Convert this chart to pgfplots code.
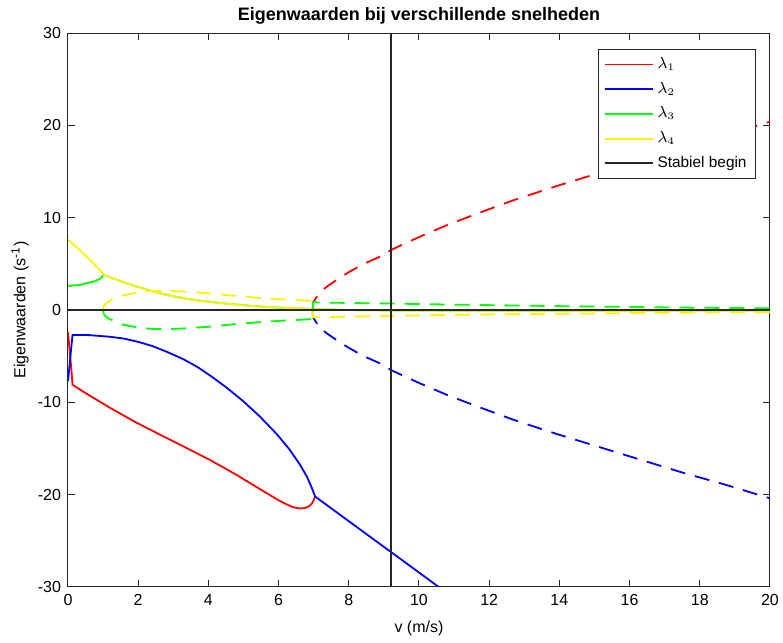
\documentclass[border=0pt]{standalone}
\usepackage{fontspec}
\setmainfont{Liberation Sans}
\usepackage{pgfplots}
\pgfplotsset{compat=1.18}
\begin{document}
\begin{tikzpicture}
\begin{axis}[
  scale only axis, width=351pt, height=277pt,
  xmin=0, xmax=20, ymin=-30, ymax=30,
  xtick={0,2,...,20}, ytick={-30,-20,...,30},
  tick align=inside, major tick length=3.5pt,
  ticklabel style={font=\fontsize{8}{9}\selectfont},
  /pgf/number format/assume math mode=true,
  axis line style={line width=0.5pt, black!85},
  every tick/.style={black!85, line width=0.5pt},
  title={Eigenwaarden bij verschillende snelheden},
  title style={font=\bfseries\fontsize{9}{10}\selectfont, at={(0.5,1)}, anchor=center, yshift=2.5pt},
  xlabel={v (m/s)},
  ylabel={Eigenwaarden (s\textsuperscript{-1})},
  xlabel style={font=\fontsize{8}{9}\selectfont, at={(axis description cs:0.5,-0.074)}, anchor=center},
  ylabel style={font=\fontsize{8}{9}\selectfont, at={(axis description cs:-0.0684,0.5)}, anchor=center},
  legend style={at={(1,1)}, anchor=north east, xshift=-7pt, yshift=-8pt,
    font=\fontsize{7.7}{8.5}\selectfont, row sep=1.3pt, inner xsep=2.5pt, inner ysep=2pt,
    draw=black!85, cells={anchor=west}},
  legend image code/.code={\draw[#1, line width=0.9pt] (0pt,0pt) -- (24pt,0pt);},
]
% lambda 1 (real part)
\addplot[red, line width=0.9pt] coordinates {
(0,-2.4) (0.05,-4.5) (0.1,-6.6) (0.13,-8.1) (0.5,-9.0) (1.2,-10.6) (1.9,-12.1)
(2.62,-13.5) (3.3,-14.8) (4.05,-16.25) (4.8,-17.85) (5.47,-19.4) (6.0,-20.6)
(6.2,-21.0) (6.41,-21.35) (6.6,-21.5) (6.75,-21.45) (6.87,-21.25) (6.95,-20.95) (7.0,-20.6) (7.04,-20.2)};
\addlegendentry{$\lambda_1$}
% lambda 2 (real part)
\addplot[blue, line width=0.9pt] coordinates {
(0,-7.7) (0.05,-5.8) (0.1,-3.8) (0.13,-2.7) (0.6,-2.72) (1.2,-2.9) (1.6,-3.1)
(2.0,-3.45) (2.4,-3.9) (2.8,-4.5) (3.3,-5.35) (3.7,-6.2) (4.05,-7.1) (4.5,-8.35)
(5.0,-9.9) (5.47,-11.55) (5.95,-13.45) (6.3,-15.05) (6.6,-16.7) (6.8,-18.0)
(6.95,-19.3) (7.04,-20.2) (10.6,-30.1)};
\addlegendentry{$\lambda_2$}
% lambda 3 (real part)
\addplot[green, line width=0.9pt] coordinates {
(0,2.6) (0.3,2.7) (0.53,2.9) (0.75,3.1) (0.9,3.35) (0.97,3.55) (1.0,3.85)
(1.3,3.4) (1.67,2.9) (2.0,2.5) (2.34,2.1) (2.7,1.75) (3.1,1.4) (3.76,1.0)
(4.5,0.7) (5.19,0.45) (5.9,0.28) (6.61,0.17) (6.97,0.1) (8,0.0) (9.2,-0.05)
(12,-0.08) (16,-0.1) (20,-0.1)};
\addlegendentry{$\lambda_3$}
% lambda 4 (real part)
\addplot[yellow, line width=0.9pt] coordinates {
(0,7.65) (0.2,6.95) (0.53,5.8) (0.75,4.95) (0.9,4.35) (0.97,4.05) (1.0,3.85)
(1.3,3.4) (1.67,2.9) (2.0,2.5) (2.34,2.1) (2.7,1.75) (3.1,1.4) (3.76,1.0)
(4.5,0.7) (5.19,0.45) (5.9,0.28) (6.61,0.17) (6.97,0.1) (8,0.0) (9.2,-0.05)
(12,-0.08) (16,-0.1) (20,-0.1)};
\addlegendentry{$\lambda_4$}
% imaginary parts (dashed)
\addplot[red, line width=0.9pt, dash pattern=on 7.5pt off 5pt, forget plot] coordinates {
(6.97,0) (6.98,0.8) (7.1,1.5) (7.18,1.95) (7.4,2.6) (7.65,3.25) (8.0,4.1)
(8.4,4.95) (8.9,5.8) (9.2,6.5) (10.0,7.9) (10.8,9.2) (11.7,10.5) (12.7,11.9)
(13.9,13.4) (15.1,14.8) (16.3,16.2) (17.5,17.6) (18.8,19.0) (20,20.4)};
\addplot[blue, line width=0.9pt, dash pattern=on 7.5pt off 5pt, forget plot] coordinates {
(6.97,0) (6.98,-0.8) (7.1,-1.5) (7.18,-1.95) (7.4,-2.6) (7.65,-3.25) (8.0,-4.1)
(8.4,-4.95) (8.9,-5.8) (9.2,-6.5) (10.0,-7.9) (10.8,-9.2) (11.7,-10.5) (12.7,-11.9)
(13.9,-13.4) (15.1,-14.8) (16.3,-16.2) (17.5,-17.6) (18.8,-19.0) (20,-20.4)};
\addplot[green, line width=0.9pt, dash pattern=on 7.5pt off 5pt, forget plot] coordinates {
(1.0,0) (1.02,-0.45) (1.1,-0.8) (1.2,-1.0) (1.4,-1.35) (1.58,-1.6) (2.0,-1.9)
(2.4,-2.05) (3.0,-2.05) (3.3,-2.0) (4.05,-1.8) (4.71,-1.55) (5.5,-1.3)
(6.13,-1.15) (6.89,-1.0) (6.97,-0.95) (6.98,0.85) (7.1,0.82) (8,0.76) (9.2,0.7)
(11,0.58) (14,0.42) (17,0.28) (20,0.18)};
\addplot[yellow, line width=0.9pt, dash pattern=on 7.5pt off 5pt, forget plot] coordinates {
(1.0,0) (1.02,0.45) (1.1,0.8) (1.2,1.0) (1.4,1.35) (1.58,1.6) (2.0,1.9)
(2.4,2.05) (3.0,2.05) (3.3,2.0) (4.05,1.8) (4.71,1.55) (5.5,1.3)
(6.13,1.15) (6.89,1.0) (6.97,0.95) (6.98,-0.8) (7.1,-0.78) (8,-0.72) (9.2,-0.63)
(11,-0.52) (14,-0.4) (17,-0.3) (20,-0.22)};
% zero line
\addplot[black!85, line width=0.6pt, forget plot] coordinates {(0,0) (20,0)};
% stable start
\addplot[black!85, line width=0.6pt] coordinates {(9.2,-30) (9.2,30)};
\addlegendentry{Stabiel begin}
\end{axis}
\pgfresetboundingbox
\useasboundingbox (-34pt,-28pt) rectangle (357.5pt,293.5pt);
\end{tikzpicture}
\end{document}
